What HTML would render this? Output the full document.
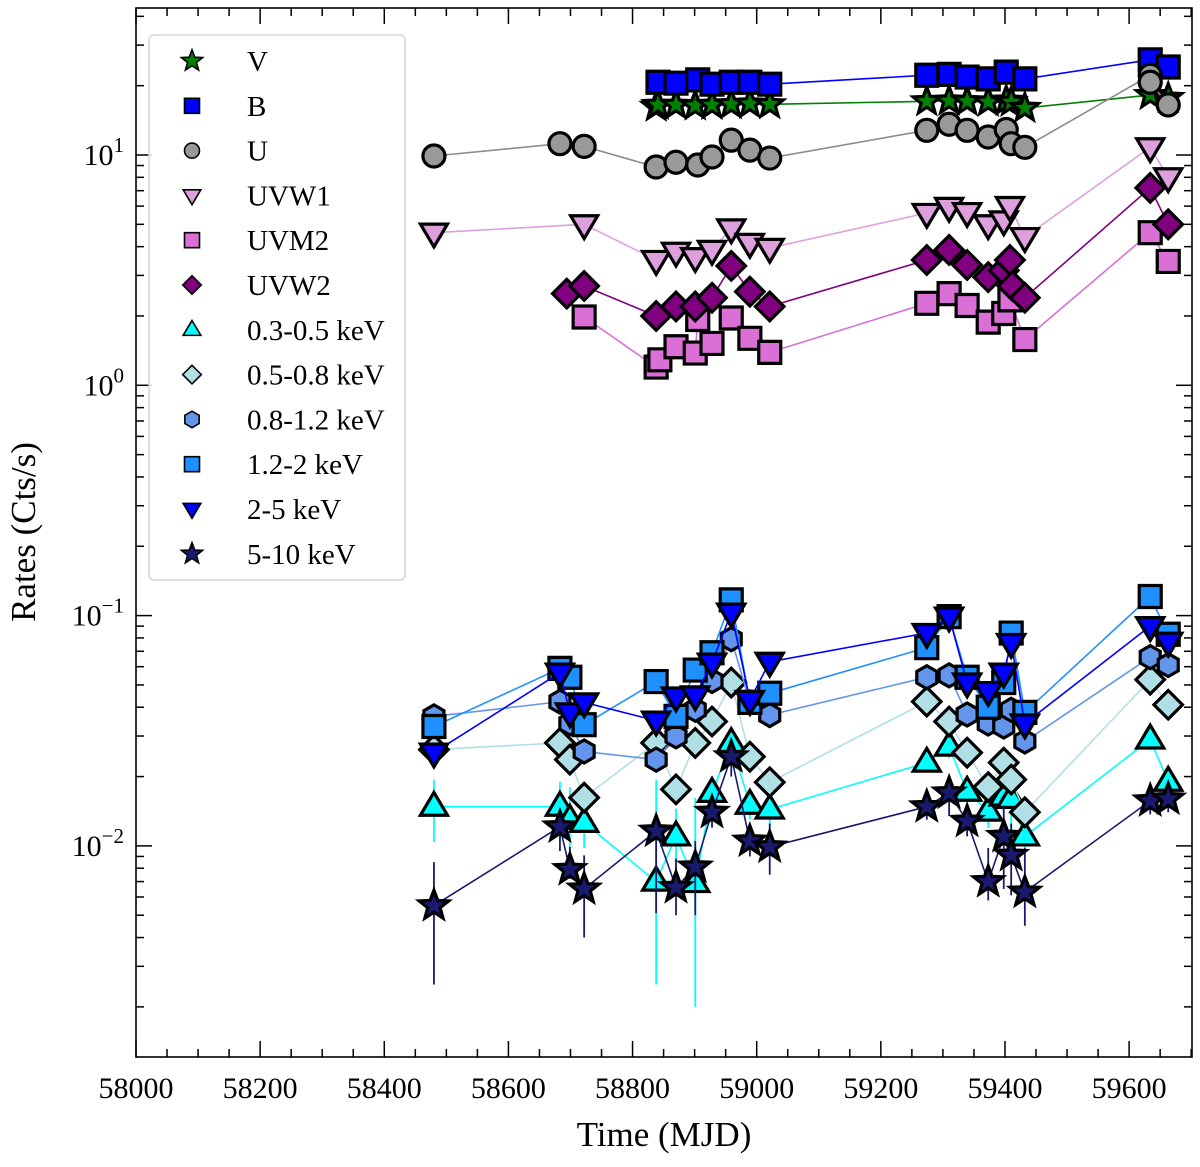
<!DOCTYPE html>
<html><head><meta charset="utf-8"><style>
html,body{margin:0;padding:0;background:#fff;}
svg text{font-family:"Liberation Serif","DejaVu Serif",serif;fill:#000;}
</style></head><body>
<svg id="chart" width="1200" height="1162" viewBox="0 0 1200 1162" xmlns="http://www.w3.org/2000/svg">
<rect x="0" y="0" width="1200" height="1162" fill="#fff"/>
<g id="errs"></g><g id="series"></g>
<g id="axes"></g>
<g id="legend"></g>
</svg>
<script>
// ---- data ----
const tV=[58838,58841,58870,58901,58928,58959,58989,59021,59274,59310,59339,59373,59402,59410,59432,59634,59663];
const yV=[16.2,16.5,16.5,16.4,16.5,16.6,16.7,16.6,17.1,17.2,17.1,17.0,17.2,17.0,16.0,18.2,17.7];
const tB=[58841,58870,58905,58928,58959,58989,59021,59274,59310,59339,59373,59402,59432,59634,59663];
const yB=[20.7,20.5,21.2,20.3,20.7,20.7,20.3,22.2,22.4,21.8,21.4,22.9,21.4,25.9,24.1];
const tU=[58480,58683,58722,58838,58870,58905,58928,58959,58989,59021,59274,59310,59339,59373,59402,59410,59432,59634,59634,59663];
const yU=[9.9,11.2,10.9,8.87,9.3,9.05,9.8,11.6,10.5,9.7,12.8,13.6,12.8,11.97,12.9,11.2,10.8,22.2,20.7,16.5];
const tW1=[58480,58722,58838,58870,58901,58928,58959,58989,59021,59274,59310,59339,59373,59398,59408,59432,59634,59663];
const yW1=[4.6,5.0,3.5,3.8,3.6,3.87,4.8,4.15,3.95,5.6,5.95,5.65,5.0,5.2,6.0,4.4,10.8,8.0];
const tM2=[58722,58838,58844,58870,58901,58905,58928,58959,58989,59021,59274,59310,59339,59373,59398,59408,59432,59634,59663];
const yM2=[1.98,1.2,1.29,1.47,1.38,1.93,1.52,1.96,1.6,1.39,2.27,2.5,2.22,1.88,2.05,2.35,1.58,4.6,3.45];
const tW2=[58694,58722,58838,58870,58901,58928,58959,58989,59021,59274,59310,59339,59373,59398,59408,59412,59432,59634,59663];
const yW2=[2.5,2.7,2.0,2.2,2.2,2.4,3.3,2.55,2.2,3.5,3.87,3.33,2.95,3.15,3.5,2.7,2.4,7.2,5.0];
// X-ray bands
const tX=[58480,58683,58699,58722,58838,58870,58901,58928,58959,58989,59021,59274,59310,59339,59373,59398,59410,59432,59634,59663];
const yS1=[0.0148,0.0148,0.013,0.0126,0.007,0.011,0.0069,0.017,0.028,0.0151,0.0144,0.023,0.027,0.0172,0.0141,0.0164,0.016,0.011,0.029,0.019];
const yS2=[0.0262,0.028,0.0237,0.0162,0.028,0.0176,0.028,0.0347,0.0512,0.0244,0.0189,0.0423,0.0347,0.0254,0.018,0.023,0.0194,0.014,0.0527,0.041];
const yS3=[0.0365,0.0423,0.034,0.0257,0.0237,0.0299,0.039,0.052,0.079,0.042,0.037,0.054,0.055,0.0372,0.034,0.033,0.039,0.0284,0.066,0.061];
const yS4=[0.033,0.059,0.054,0.0336,0.0517,0.0365,0.058,0.069,0.117,0.042,0.046,0.0726,0.099,0.054,0.040,0.0512,0.084,0.038,0.121,0.083];
const yS5=[0.0254,0.0565,0.038,0.042,0.035,0.0445,0.045,0.0625,0.103,0.043,0.063,0.084,0.099,0.0512,0.047,0.0565,0.076,0.034,0.09,0.077];
const yS6=[0.0055,0.0121,0.0079,0.0065,0.0116,0.0066,0.0081,0.014,0.0244,0.0105,0.0099,0.0148,0.017,0.0128,0.007,0.011,0.0091,0.0063,0.0157,0.016];
const loS1=[0.0104,0.0105,0.0095,0.0098,0.0025,0.0085,0.002,0.014,0.025,0.013,0.012,0.021,0.024,0.015,0.012,0.014,0.01,0.009,0.026,0.017];
const hiS1=[0.0194,0.019,0.018,0.016,0.0194,0.0145,0.0162,0.02,0.031,0.017,0.017,0.025,0.03,0.019,0.017,0.019,0.022,0.013,0.033,0.021];
const loS6=[0.0025,0.0095,0.0072,0.004,0.0051,0.005,0.005,0.012,0.02,0.009,0.0075,0.013,0.0135,0.011,0.0058,0.0065,0.0061,0.0045,0.0137,0.014];
const hiS6=[0.0085,0.0145,0.0099,0.0091,0.0127,0.0088,0.0105,0.0165,0.029,0.012,0.0125,0.0168,0.0196,0.0145,0.0098,0.015,0.0125,0.0098,0.018,0.0178];
const xTicks=[58000,58200,58400,58600,58800,59000,59200,59400,59600];
const yDecades=[-2,-1,0,1];
const legendLabels=["V","B","U","UVW1","UVM2","UVW2","0.3-0.5 keV","0.5-0.8 keV","0.8-1.2 keV","1.2-2 keV","2-5 keV","5-10 keV"];

// ---- scales ----
const X0=136,X1=1192,Y0=8,Y1=1057;
const xmin=58000;
function sx(m){return X0+(m-xmin)*0.6207;}
function sy(v){return 155-(Math.log10(v)-1)*230.3;}
const NS="http://www.w3.org/2000/svg";
function mk(tag,attrs,parent){const e=document.createElementNS(NS,tag);for(const k in attrs)e.setAttribute(k,attrs[k]);parent.appendChild(e);return e;}

function markerPath(shape,s){
  const p=[];
  if(shape==="square")return `M${-s/2},${-s/2}h${s}v${s}h${-s}z`;
  if(shape==="diamond"){const r=s*0.62;return `M0,${-r}L${r},0L0,${r}L${-r},0z`;}
  if(shape==="tri-up"){const r=s*0.62;return `M0,${-r}L${r*0.95},${r*0.6}L${-r*0.95},${r*0.6}z`;}
  if(shape==="tri-down"){const r=s*0.62;return `M0,${r}L${r*0.95},${-r*0.6}L${-r*0.95},${-r*0.6}z`;}
  if(shape==="hex"){const r=s*0.55;for(let i=0;i<6;i++){const a=Math.PI/6+i*Math.PI/3;p.push((r*Math.cos(a)).toFixed(2)+","+(r*Math.sin(a)).toFixed(2));}return "M"+p.join("L")+"z";}
  if(shape==="star"){const R=s*0.62,r=R*0.42;for(let i=0;i<10;i++){const a=-Math.PI/2+i*Math.PI/5;const rr=i%2?r:R;p.push((rr*Math.cos(a)).toFixed(2)+","+(rr*Math.sin(a)).toFixed(2));}return "M"+p.join("L")+"z";}
  return "";
}
function drawMarker(g,shape,cx,cy,s,fill,sw){
  if(shape==="circle")return mk("circle",{cx:cx,cy:cy,r:s/2,fill:fill,stroke:"#000","stroke-width":sw},g);
  return mk("path",{d:markerPath(shape,s),transform:`translate(${cx},${cy})`,fill:fill,stroke:"#000","stroke-width":sw,"stroke-linejoin":"miter"},g);
}

const series=[
 {name:"v-band",t:tV,y:yV,shape:"star",color:"#008000",fill:"#008000",s:23},
 {name:"b-band",t:tB,y:yB,shape:"square",color:"#0000ff",fill:"#0000ff",s:22},
 {name:"u-band",t:tU,y:yU,shape:"circle",color:"#8c8c8c",fill:"#999999",s:22},
 {name:"uvw1-band",t:tW1,y:yW1,shape:"tri-down",color:"#dda0dd",fill:"#dda0dd",s:23},
 {name:"uvm2-band",t:tM2,y:yM2,shape:"square",color:"#da70d6",fill:"#da70d6",s:22},
 {name:"uvw2-band",t:tW2,y:yW2,shape:"diamond",color:"#800080",fill:"#800080",s:23},
 {name:"xray-0.3-0.5",t:tX,y:yS1,lo:loS1,hi:hiS1,shape:"tri-up",color:"#00ffff",fill:"#00ffff",s:23},
 {name:"xray-0.5-0.8",t:tX,y:yS2,shape:"diamond",color:"#b0e0e6",fill:"#b0e0e6",s:23},
 {name:"xray-0.8-1.2",t:tX,y:yS3,shape:"hex",color:"#6495ed",fill:"#6495ed",s:21},
 {name:"xray-1.2-2",t:tX,y:yS4,shape:"square",color:"#1e90ff",fill:"#1e90ff",s:22},
 {name:"xray-2-5",t:tX,y:yS5,shape:"tri-down",color:"#0000ff",fill:"#0000ff",s:23},
 {name:"xray-5-10",t:tX,y:yS6,lo:loS6,hi:hiS6,shape:"star",color:"#191970",fill:"#191970",s:25}
];

const gS=document.getElementById("series");
series.forEach(function(se){
  const g=mk("g",{},gS);
  
  
  if(se.lo){
    se.t.forEach(function(t,i){
      const l=mk("line",{x1:sx(t),x2:sx(t),y1:sy(se.lo[i]),y2:sy(se.hi[i]),stroke:se.color,"stroke-width":1.8},g);
      
      
    });
  }
  const pts=se.t.map(function(t,i){return sx(t).toFixed(1)+","+sy(se.y[i]).toFixed(1);}).join(" ");
  const pl=mk("polyline",{points:pts,fill:"none",stroke:se.color,"stroke-width":1.6},g);
  
  
  se.t.forEach(function(t,i){
    const m=drawMarker(g,se.shape,sx(t),sy(se.y[i]),se.s,se.fill,3.2);
    
    
  });
});

// ---- axes ----
const gA=document.getElementById("axes");
const frame=mk("rect",{x:X0,y:Y0,width:X1-X0,height:Y1-Y0,fill:"none",stroke:"#000","stroke-width":1.6},gA);


for(let m=58000;m<=59700;m+=50){
  const x=sx(m); if(x<X0||x>X1)continue;
  const major=(m%200===0);const L=major?16:8;
  mk("line",{x1:x,x2:x,y1:Y1,y2:Y1-L,stroke:"#000","stroke-width":1.5},gA);
  mk("line",{x1:x,x2:x,y1:Y0,y2:Y0+L,stroke:"#000","stroke-width":1.5},gA);
}
xTicks.forEach(function(m){
  const t=mk("text",{x:sx(m),y:Y1+41,"font-size":30,"text-anchor":"middle"},gA);
  t.textContent=m;
  
  
});
for(let d=-3;d<=1;d++){
  for(let k=1;k<=9;k++){
    const v=k*Math.pow(10,d);const y=sy(v);
    if(y<Y0||y>Y1)continue;
    const L=k===1?16:8;
    mk("line",{x1:X0,x2:X0+L,y1:y,y2:y,stroke:"#000","stroke-width":1.5},gA);
    mk("line",{x1:X1,x2:X1-L,y1:y,y2:y,stroke:"#000","stroke-width":1.5},gA);
  }
}
yDecades.forEach(function(d){
  const y=sy(Math.pow(10,d));
  const t=mk("text",{x:X0-12,y:y+10,"font-size":30,"text-anchor":"end"},gA);
  const a=document.createElementNS(NS,"tspan");a.textContent="10";t.appendChild(a);
  const b=document.createElementNS(NS,"tspan");b.setAttribute("dy","-13");b.setAttribute("font-size","21");b.textContent=(d<0?"\u2212"+(-d):String(d));t.appendChild(b);
  
  
});
const xt=mk("text",{x:664,y:1146,"font-size":35,"text-anchor":"middle"},gA);
xt.textContent="Time (MJD)";


const yt=mk("text",{x:0,y:0,"font-size":35,"text-anchor":"middle",transform:"translate(35,532) rotate(-90)"},gA);
yt.textContent="Rates (Cts/s)";



// ---- legend ----
const gL=document.getElementById("legend");


mk("rect",{x:149,y:35,width:256,height:545,rx:5,fill:"#fff","fill-opacity":0.85,stroke:"#d5d5d5","stroke-width":1.5},gL);
series.forEach(function(se,i){
  const y=61+i*44.8;
  const g=mk("g",{},gL);
  
  
  drawMarker(g,se.shape,192,y,se.shape==="star"?18:15,se.fill,1.6);
  const t=mk("text",{x:247,y:y+10,"font-size":29},g);
  t.textContent=legendLabels[i];
});
</script>
</body></html>
